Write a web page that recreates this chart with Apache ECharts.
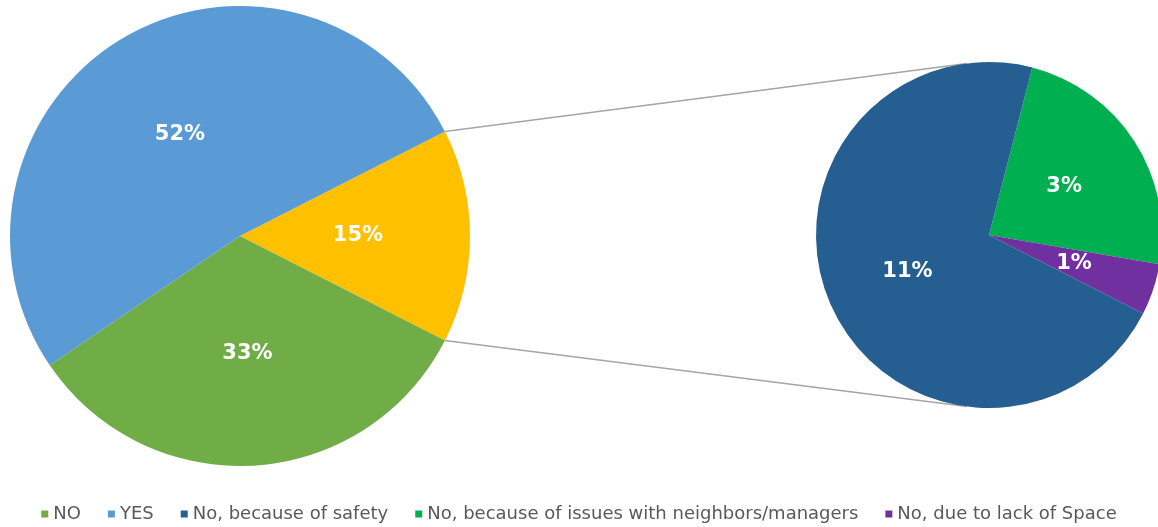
<!DOCTYPE html>
<html>
<head>
<meta charset="utf-8">
<script src="https://cdn.jsdelivr.net/npm/echarts@6/dist/echarts.min.js"></script>
<style>
  html, body { margin: 0; padding: 0; background: #fff; }
  #chart { width: 1158px; height: 527px; }
</style>
</head>
<body>
<div id="chart"></div>
<script>
// main pie: answers (the "other" slice is broken out into the second pie)
const mainNames = ['NO', 'YES'];
const mainValues = [33, 52];
const otherValue = 15;

// second pie: breakdown of the "other" slice
const subNames = ['No, because of issues with neighbors/managers', 'No, due to lack of Space', 'No, because of safety'];
const subValues = [3.55, 0.72, 10.73];
const subLabels = ['3%', '1%', '11%'];

const legendOrder = ['NO', 'YES', 'No, because of safety', 'No, because of issues with neighbors/managers', 'No, due to lack of Space'];

const colors = {
    'NO': '#70AD47',
    'YES': '#5B9BD5',
    'other': '#FFC000',
    'No, because of safety': '#255E91',
    'No, because of issues with neighbors/managers': '#00B050',
    'No, due to lack of Space': '#7030A0'
};

const chart = echarts.init(document.getElementById('chart'), null, { renderer: 'canvas' });

// layout
const mainCenter = [240, 236], mainR = 230;
const subCenter = [989, 235], subR = 173;
const subStart = 75.5;

// the broken-out slice is centred on the right-hand side of the main pie
const otherTotal = mainValues.reduce((a, b) => a + b, 0) + otherValue;
const halfAngle = otherValue / otherTotal * 180;

function onCircle(c, r, deg) {
    const a = deg * Math.PI / 180;
    return [c[0] + r * Math.cos(a), c[1] - r * Math.sin(a)];
}

const p1 = onCircle(mainCenter, mainR, halfAngle);
const p2 = onCircle(mainCenter, mainR, -halfAngle);
const q1 = onCircle(subCenter, subR, 97.3);
const q2 = onCircle(subCenter, subR, -97.3);

const labelStyle = {
    show: true,
    position: 'inside',
    color: '#fff',
    fontSize: 21,
    fontWeight: 'bold',
    fontFamily: 'DejaVu Sans'
};

const mainData = [{ name: 'other', value: otherValue, itemStyle: { color: colors.other } }]
    .concat(mainNames.map((n, i) => ({ name: n, value: mainValues[i], itemStyle: { color: colors[n] } })));
const subData = subNames.map((n, i) => ({ name: n, value: subValues[i], itemStyle: { color: colors[n] } }));

chart.setOption({
    animation: false,
    legend: {
        data: legendOrder,
        bottom: -1,
        left: 'center',
        icon: 'rect',
        itemWidth: 7,
        itemHeight: 7,
        itemGap: 27,
        textStyle: { color: '#595959', fontSize: 18, fontFamily: 'DejaVu Sans' }
    },
    graphic: [
        { type: 'line', shape: { x1: p1[0], y1: p1[1], x2: q1[0], y2: q1[1] }, style: { stroke: '#A5A5A5', lineWidth: 1.5 }, z: -1 },
        { type: 'line', shape: { x1: p2[0], y1: p2[1], x2: q2[0], y2: q2[1] }, style: { stroke: '#A5A5A5', lineWidth: 1.5 }, z: -1 }
    ],
    series: [
        {
            type: 'pie',
            center: mainCenter,
            radius: mainR,
            startAngle: halfAngle,
            clockwise: true,
            silent: true,
            label: Object.assign({}, labelStyle, { formatter: p => Math.round(p.value) + '%' }),
            labelLine: { show: false },
            data: mainData
        },
        {
            type: 'pie',
            center: subCenter,
            radius: subR,
            startAngle: subStart,
            clockwise: true,
            silent: true,
            label: Object.assign({}, labelStyle, { formatter: p => subLabels[p.dataIndex] }),
            labelLine: { show: false },
            data: subData
        }
    ]
});
</script>
</body>
</html>
